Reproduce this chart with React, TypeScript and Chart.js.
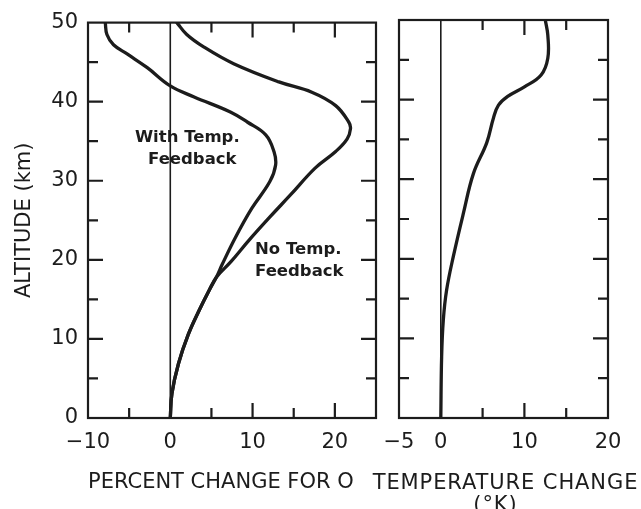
import React, { useEffect, useRef } from 'react';
import { Chart, registerables } from 'chart.js';

Chart.register(...registerables);

// ---- data (altitude in km, percent change / temperature change) ----
const ALT_WITH = [0, 3.1, 6.9, 10.6, 13.6, 16.1, 17.8, 19.4, 22.8, 26.5, 29.9, 32.0, 33.7, 35.8, 37.4, 38.7, 40.6, 42.0, 44.3, 46.0, 47.2, 48.5, 50];
const PCT_WITH = [0, 0.2, 1.0, 2.2, 3.5, 4.7, 5.6, 6.3, 7.9, 9.9, 12.1, 12.8, 12.6, 11.6, 9.4, 7.3, 2.9, 0, -2.8, -5.2, -6.9, -7.7, -7.9];

const ALT_NO = [0, 3.1, 6.9, 10.6, 13.6, 16.1, 17.8, 19.8, 22.4, 25.3, 28.2, 31.6, 33.7, 35.3, 36.6, 37.4, 39.5, 41.2, 42.5, 44.8, 46.9, 48.5, 50];
const PCT_NO = [0, 0.2, 1.0, 2.2, 3.5, 4.7, 5.6, 7.4, 9.5, 12.0, 14.6, 17.6, 20.1, 21.5, 21.9, 21.7, 20.1, 17.2, 13.2, 7.7, 4.1, 2.0, 0.8];

const ALT_T = [0, 7.7, 12.3, 16.1, 20.3, 25.7, 30.7, 34.6, 37.7, 39.3, 40.4, 41.6, 43.1, 45.2, 48.1, 50];
const DT = [0, 0.1, 0.3, 0.7, 1.5, 2.7, 3.9, 5.5, 6.3, 6.9, 8.0, 10.0, 12.0, 12.8, 12.8, 12.5];

const ALT_TICKS = [0, 10, 20, 30, 40, 50];
const PCT_TICKS = [-10, 0, 10, 20];
const DT_TICKS = [-5, 0, 10, 20];

const PCT_RANGE = [-10, 25];
const DT_RANGE = [-5, 20];
const ALT_RANGE = [0, 50];

const INK = '#1c1c1c';
const FONT = 'DejaVu Sans';

const fmt = (v: number) => (v < 0 ? '\u2212' + Math.abs(v) : String(v));

const framePlugin = {
  id: 'frameTicks',
  beforeDatasetsDraw(chart: any) {
    const { ctx, chartArea, scales } = chart;
    const x0 = scales.x.getPixelForValue(0);
    ctx.save();
    ctx.strokeStyle = INK;
    ctx.lineWidth = 1.6;
    ctx.beginPath();
    ctx.moveTo(x0, chartArea.top);
    ctx.lineTo(x0, chartArea.bottom);
    ctx.stroke();
    ctx.restore();
  },
  afterDatasetsDraw(chart: any) {
    const { ctx, chartArea: a, scales } = chart;
    ctx.save();
    ctx.strokeStyle = INK;
    ctx.lineWidth = 2.2;
    ctx.strokeRect(a.left, a.top, a.right - a.left, a.bottom - a.top);
    const xs = scales.x;
    const ys = scales.y;
    ctx.beginPath();
    for (let v = Math.ceil(xs.min / 5) * 5; v <= xs.max; v += 5) {
      if (v === xs.min || v === xs.max || v === 0) continue;
      const p = xs.getPixelForValue(v);
      const len = v % 10 === 0 ? 15 : 10;
      ctx.moveTo(p, a.top);
      ctx.lineTo(p, a.top + len);
      ctx.moveTo(p, a.bottom);
      ctx.lineTo(p, a.bottom - len);
    }
    for (let v = Math.ceil(ys.min / 5) * 5; v <= ys.max; v += 5) {
      if (v === ys.min || v === ys.max) continue;
      const p = ys.getPixelForValue(v);
      const len = v % 10 === 0 ? 15 : 10;
      ctx.moveTo(a.left, p);
      ctx.lineTo(a.left + len, p);
      ctx.moveTo(a.right, p);
      ctx.lineTo(a.right - len, p);
    }
    ctx.stroke();
    ctx.restore();
  },
};

const makeNotesPlugin = (notes: { text: string; x: number; y: number }[], titleLines: string[] | null) => ({
  id: 'notes',
  afterDraw(chart: any) {
    const { ctx, scales, chartArea } = chart;
    ctx.save();
    ctx.fillStyle = INK;
    ctx.textBaseline = 'alphabetic';
    ctx.textAlign = 'left';
    ctx.font = `bold 16.5px "${FONT}"`;
    notes.forEach((n) => {
      ctx.fillText(n.text, scales.x.getPixelForValue(n.x), scales.y.getPixelForValue(n.y));
    });
    if (titleLines) {
      ctx.font = `21px "${FONT}"`;
      ctx.textAlign = 'center';
      try {
        (ctx as any).letterSpacing = '0.9px';
      } catch (e) {}
      const cx = (chartArea.left + chartArea.right) / 2 + 2;
      ctx.fillText(titleLines[0], cx, chartArea.bottom + 71);
      ctx.fillText(titleLines[1], cx - 10, chartArea.bottom + 93);
    }
    ctx.restore();
  },
});

const lineDs = (label: string, xs: number[], ys: number[]) => ({
  label,
  data: ys.map((y, i) => ({ x: xs[i], y })),
  borderColor: INK,
  borderWidth: 3.3,
  pointRadius: 0,
  fill: false,
  tension: 0.4,
  borderCapStyle: 'round' as const,
  borderJoinStyle: 'round' as const,
});

const tickFont = { family: FONT, size: 21 };

function LeftPanel() {
  const ref = useRef<HTMLCanvasElement>(null);
  useEffect(() => {
    const chart = new Chart(ref.current!, {
      type: 'line',
      data: {
        datasets: [
          lineDs('With Temp. Feedback', PCT_WITH, ALT_WITH),
          lineDs('No Temp. Feedback', PCT_NO, ALT_NO),
        ],
      },
      options: {
        animation: false,
        responsive: false,
        indexAxis: 'y',
        layout: { padding: { top: 20, right: 9, left: 0, bottom: 0 } },
        plugins: { legend: { display: false }, tooltip: { enabled: false } },
        scales: {
          x: {
            type: 'linear',
            position: 'bottom',
            min: PCT_RANGE[0],
            max: PCT_RANGE[1],
            afterBuildTicks: (s: any) => {
              s.ticks = PCT_TICKS.map((v) => ({ value: v }));
            },
            afterFit: (s: any) => {
              s.height = 91;
            },
            grid: { display: false, drawTicks: false },
            border: { display: false },
            ticks: { padding: 12, font: tickFont, color: INK, maxRotation: 0, autoSkip: false, callback: (v: any) => fmt(Number(v)) },
            title: {
              display: true,
              text: 'PERCENT CHANGE FOR O',
              align: 'start',
              font: { family: FONT, size: 21 },
              color: INK,
              padding: { top: 0, bottom: 14 },
            },
          },
          y: {
            type: 'linear',
            position: 'left',
            min: ALT_RANGE[0],
            max: ALT_RANGE[1],
            afterBuildTicks: (s: any) => {
              s.ticks = ALT_TICKS.map((v) => ({ value: v }));
            },
            afterFit: (s: any) => {
              s.width = 88;
            },
            grid: { display: false, drawTicks: false },
            border: { display: false },
            ticks: { padding: 10, font: tickFont, color: INK, autoSkip: false },
            title: {
              display: true,
              text: 'ALTITUDE (km)',
              font: { family: FONT, size: 21 },
              color: INK,
              padding: { top: 12, bottom: 0 },
            },
          },
        },
      } as any,
      plugins: [
        framePlugin,
        makeNotesPlugin(
          [
            { text: 'With Temp.', x: -4.3, y: 34.9 },
            { text: 'Feedback', x: -2.7, y: 32.15 },
            { text: 'No Temp.', x: 10.3, y: 20.7 },
            { text: 'Feedback', x: 10.3, y: 17.95 },
          ],
          null
        ),
      ],
    });
    return () => chart.destroy();
  }, []);
  return <canvas ref={ref} width={385} height={509} style={{ position: 'absolute', left: 0, top: 0 }} />;
}

function RightPanel() {
  const ref = useRef<HTMLCanvasElement>(null);
  useEffect(() => {
    const chart = new Chart(ref.current!, {
      type: 'line',
      data: {
        datasets: [lineDs('Temperature change', DT, ALT_T)],
      },
      options: {
        animation: false,
        responsive: false,
        indexAxis: 'y',
        layout: { padding: { top: 20, right: 33, left: 39, bottom: 0 } },
        plugins: { legend: { display: false }, tooltip: { enabled: false } },
        scales: {
          x: {
            type: 'linear',
            position: 'bottom',
            min: DT_RANGE[0],
            max: DT_RANGE[1],
            afterBuildTicks: (s: any) => {
              s.ticks = DT_TICKS.map((v) => ({ value: v }));
            },
            afterFit: (s: any) => {
              s.height = 91;
            },
            grid: { display: false, drawTicks: false },
            border: { display: false },
            ticks: { padding: 12, font: tickFont, color: INK, maxRotation: 0, autoSkip: false, callback: (v: any) => fmt(Number(v)) },
          },
          y: {
            type: 'linear',
            display: false,
            min: ALT_RANGE[0],
            max: ALT_RANGE[1],
          },
        },
      } as any,
      plugins: [framePlugin, makeNotesPlugin([], ['TEMPERATURE CHANGE', '(\u00B0K)'])],
    });
    return () => chart.destroy();
  }, []);
  return <canvas ref={ref} width={281} height={509} style={{ position: 'absolute', left: 360, top: 0 }} />;
}

export default function App() {
  return (
    <div style={{ position: 'fixed', left: 0, top: 0, width: 641, height: 509, background: '#fff', overflow: 'hidden' }}>
      <LeftPanel />
      <RightPanel />
    </div>
  );
}
